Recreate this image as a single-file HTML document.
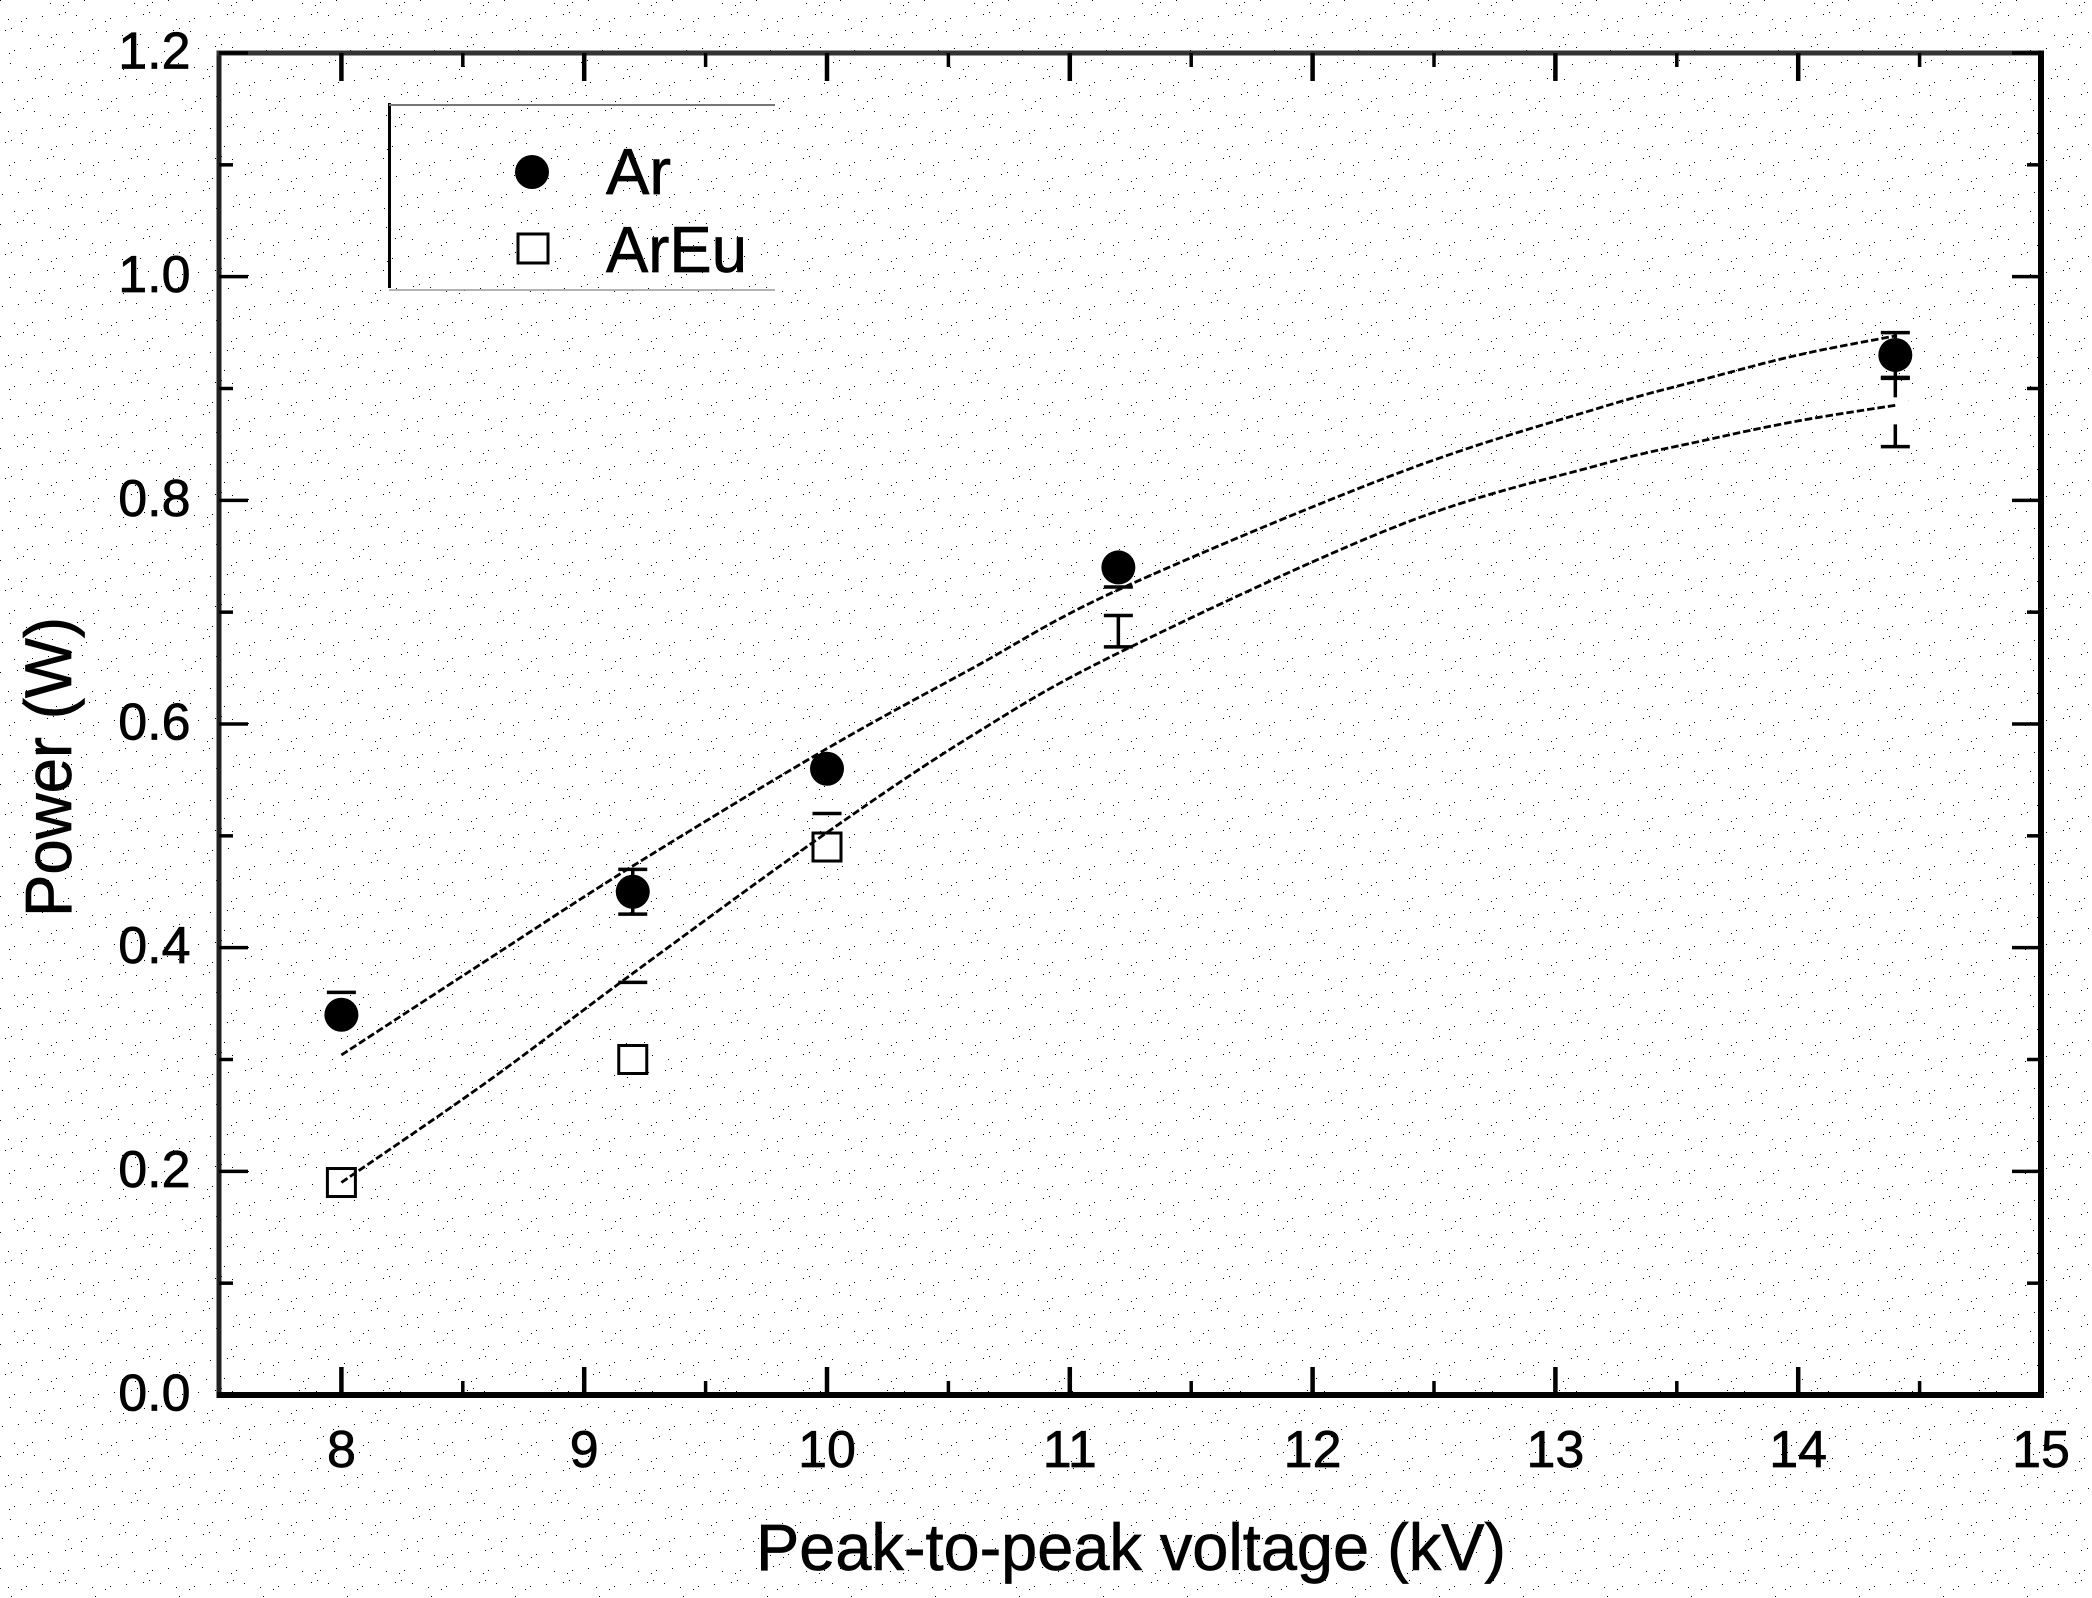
<!DOCTYPE html>
<html lang="en">
<head>
<meta charset="utf-8">
<title>Power vs Peak-to-peak voltage</title>
<style>
html,body{margin:0;padding:0;background:#fff;}
svg{display:block;}
text{font-family:"Liberation Sans",sans-serif;fill:#000;stroke:#000;stroke-width:0.7px;}
</style>
</head>
<body>
<svg id="chart" xmlns="http://www.w3.org/2000/svg" width="2092" height="1598" viewBox="0 0 2092 1598">
  <defs>
    <pattern id="speck-tile" width="168" height="112" patternUnits="userSpaceOnUse"><path id="speck-path" fill="#000" d=""></path></pattern>
  </defs>
  <rect x="0" y="0" width="2092" height="1598" fill="#fff"></rect>
  <rect x="0" y="0" width="2092" height="1598" fill="url(#speck-tile)"></rect>
  <g id="plot-layer"></g>
  <g id="axes-layer"></g>
  <text x="756" y="1570" font-size="66" textLength="750" lengthAdjust="spacingAndGlyphs">Peak-to-peak voltage (kV)</text>
  <text transform="translate(71,917) rotate(-90)" x="0" y="0" font-size="66" textLength="300" lengthAdjust="spacingAndGlyphs">Power (W)</text>
  <g>
    <line x1="389.5" y1="103" x2="389.5" y2="288" stroke="#000" stroke-width="3"></line>
    <line x1="389" y1="105" x2="775" y2="105" stroke="#777" stroke-width="2"></line>
    <line x1="389" y1="290" x2="775" y2="290" stroke="#999" stroke-width="1.5"></line>
    <circle cx="532" cy="172" r="17" fill="#000"></circle>
    <rect x="518" y="234" width="30" height="29" fill="#fff" stroke="#000" stroke-width="3"></rect>
    <text x="606" y="194" font-size="65">Ar</text>
    <text x="606" y="272" font-size="65" textLength="141" lengthAdjust="spacingAndGlyphs">ArEu</text>
  </g>
</svg>
<script>
var voltageKv = [8, 9.2, 10, 11.2, 14.4];
var arPower = [0.34, 0.45, 0.56, 0.74, 0.93];
var arHigh = [0.36, 0.47, null, null, 0.95];
var arLow = [null, 0.43, null, 0.7225, 0.909];
var euPower = [0.19, 0.30, 0.49, 0.683, 0.88];
var euMarkerKind = ['box', 'box', 'box', 'none', 'blank'];
var euHigh = [null, 0.369, 0.52, 0.697, 0.91];
var euLow = [null, null, null, 0.669, 0.848];
var fitVoltage = [8, 8.6, 9.2, 10, 10.6, 11.2, 12.36, 13.18, 13.6, 14, 14.4];
var arFit = [0.304, 0.389, 0.473, 0.578, 0.65, 0.72, 0.825, 0.8826, 0.9076, 0.93, 0.947];
var euFit = [0.19, 0.28, 0.377, 0.503, 0.59, 0.6635, 0.778, 0.8316, 0.853, 0.871, 0.885];
var xMajorTicks = [8, 9, 10, 11, 12, 13, 14, 15];
var xMinorTicks = [8.5, 9.5, 10.5, 11.5, 12.5, 13.5, 14.5];
var xTickLabels = ['8', '9', '10', '11', '12', '13', '14', '15'];
var yMajorTicks = [0, 0.2, 0.4, 0.6, 0.8, 1.0, 1.2];
var yMinorTicks = [0.1, 0.3, 0.5, 0.7, 0.9, 1.1];
var yTickLabels = ['0.0', '0.2', '0.4', '0.6', '0.8', '1.0', '1.2'];

var NS = 'http://www.w3.org/2000/svg';
var plotLeft = 220, plotRight = 2041, plotTop = 53, plotBottom = 1395;
var xMin = 7.5, xMax = 15, yMin = 0, yMax = 1.2;
function xAt(v) { return plotLeft + (v - xMin) / (xMax - xMin) * (plotRight - plotLeft); }
function yAt(v) { return plotBottom - (v - yMin) / (yMax - yMin) * (plotBottom - plotTop); }
function make(tag, attrs, parent) {
  var n = document.createElementNS(NS, tag);
  for (var k in attrs) { n.setAttribute(k, attrs[k]); }
  parent.appendChild(n);
  return n;
}
var plotLayer = document.getElementById('plot-layer');
var axesLayer = document.getElementById('axes-layer');

/* background speckle tile */
(function () {
  var jitter = [0, 3, -2, 5, -4, 2, -1];
  var d = '';
  for (var j = 0; j < 7; j++) {
    for (var i = 0; i < 14; i++) {
      var px = (i * 12 + (j % 2) * 6 + jitter[(i * 3 + j * 5) % 7] + 168) % 168;
      var py = (j * 16 + jitter[(i * 2 + j) % 7] + 112) % 112;
      d += 'M' + px + ' ' + py + 'h1v1h-1z';
    }
  }
  document.getElementById('speck-path').setAttribute('d', d);
})();

function smoothPath(xs, ys) {
  var pts = xs.map(function (x, i) { return [xAt(x), yAt(ys[i])]; });
  var d = 'M' + pts[0][0].toFixed(1) + ' ' + pts[0][1].toFixed(1);
  for (var i = 0; i < pts.length - 1; i++) {
    var p0 = pts[Math.max(i - 1, 0)], p1 = pts[i], p2 = pts[i + 1], p3 = pts[Math.min(i + 2, pts.length - 1)];
    var c1x = p1[0] + (p2[0] - p0[0]) / 6, c1y = p1[1] + (p2[1] - p0[1]) / 6;
    var c2x = p2[0] - (p3[0] - p1[0]) / 6, c2y = p2[1] - (p3[1] - p1[1]) / 6;
    d += 'C' + c1x.toFixed(1) + ' ' + c1y.toFixed(1) + ' ' + c2x.toFixed(1) + ' ' + c2y.toFixed(1) + ' ' + p2[0].toFixed(1) + ' ' + p2[1].toFixed(1);
  }
  return d;
}

function drawBars(highs, lows, prefix) {
  voltageKv.forEach(function (v, i) {
    var cx = xAt(v);
    if (highs[i] !== null && lows[i] !== null) {
      var stem = make('line', { x1: cx, x2: cx, y1: yAt(highs[i]), y2: yAt(lows[i]), stroke: '#000', 'stroke-width': 3.5 }, plotLayer);
      
      
    }
    [highs[i], lows[i]].forEach(function (val) {
      if (val === null) { return; }
      var cap = make('line', { x1: cx - 14.5, x2: cx + 14.5, y1: yAt(val), y2: yAt(val), stroke: '#000', 'stroke-width': 3.5 }, plotLayer);
      
      
    });
  });
}
drawBars(euHigh, euLow, 'areu');

/* ArEu markers */
voltageKv.forEach(function (v, i) {
  var kind = euMarkerKind[i];
  if (kind === 'none') { return; }
  var size = kind === 'box' ? 28 : 27;
  var attrs = { x: xAt(v) - size / 2, y: yAt(euPower[i]) - size / 2, width: size, height: size, fill: '#fff' };
  if (kind === 'box') { attrs.stroke = '#000'; attrs['stroke-width'] = 3; }
  var box = make('rect', attrs, plotLayer);
  
  
});

/* fit curves */
var arCurve = make('path', { d: smoothPath(fitVoltage, arFit), fill: 'none', stroke: '#000', 'stroke-width': 2.8, 'stroke-dasharray': '7.5 3' }, plotLayer);


var euCurve = make('path', { d: smoothPath(fitVoltage, euFit), fill: 'none', stroke: '#000', 'stroke-width': 2.8, 'stroke-dasharray': '7.5 3' }, plotLayer);



drawBars(arHigh, arLow, 'ar');

/* Ar markers */
voltageKv.forEach(function (v, i) {
  var dot = make('circle', { cx: xAt(v), cy: yAt(arPower[i]), r: 17, fill: '#000' }, plotLayer);
  
  
});

/* frame */
var frameLeft = make('rect', { x: 216.5, y: plotTop - 2.5, width: 5, height: plotBottom - plotTop + 5, fill: '#222' }, axesLayer);


var frameTop = make('rect', { x: 216.5, y: plotTop - 2.5, width: plotRight - 216.5 + 2.5, height: 5, fill: '#333' }, axesLayer);


var frameRight = make('rect', { x: plotRight - 3, y: plotTop - 2.5, width: 6, height: plotBottom - plotTop + 5.5, fill: '#000' }, axesLayer);


var frameBottom = make('rect', { x: 216.5, y: plotBottom - 3, width: plotRight - 216.5 + 3, height: 6, fill: '#000' }, axesLayer);



/* ticks */
function xTick(v, len, w) {
  var cx = xAt(v);
  var lo = make('line', { x1: cx, x2: cx, y1: plotBottom, y2: plotBottom - len, stroke: '#000', 'stroke-width': w }, axesLayer);
  
  
  var up = make('line', { x1: cx, x2: cx, y1: plotTop, y2: plotTop + len, stroke: '#000', 'stroke-width': w }, axesLayer);
  
  
}
function yTick(v, len, w) {
  var cy = yAt(v);
  var lf = make('line', { x1: 219, x2: 219 + len, y1: cy, y2: cy, stroke: '#000', 'stroke-width': w }, axesLayer);
  
  
  var rt = make('line', { x1: plotRight, x2: plotRight - len, y1: cy, y2: cy, stroke: '#000', 'stroke-width': w }, axesLayer);
  
  
}
xMajorTicks.forEach(function (v) { xTick(v, 28, 4.5); });
xMinorTicks.forEach(function (v) { xTick(v, 14, 3.5); });
yMajorTicks.forEach(function (v) { yTick(v, 29, 3.5); });
yMinorTicks.forEach(function (v) { yTick(v, 14, 3.5); });

/* tick labels */
xMajorTicks.forEach(function (v, i) {
  var t = make('text', { x: xAt(v), y: 1467, 'font-size': 52, 'text-anchor': 'middle' }, axesLayer);
  
  
  t.textContent = xTickLabels[i];
});
yMajorTicks.forEach(function (v, i) {
  var t = make('text', { x: 190.5, y: yAt(v) + 15.5, 'font-size': 52, 'text-anchor': 'end' }, axesLayer);
  
  
  t.textContent = yTickLabels[i];
});
</script>
</body>
</html>
